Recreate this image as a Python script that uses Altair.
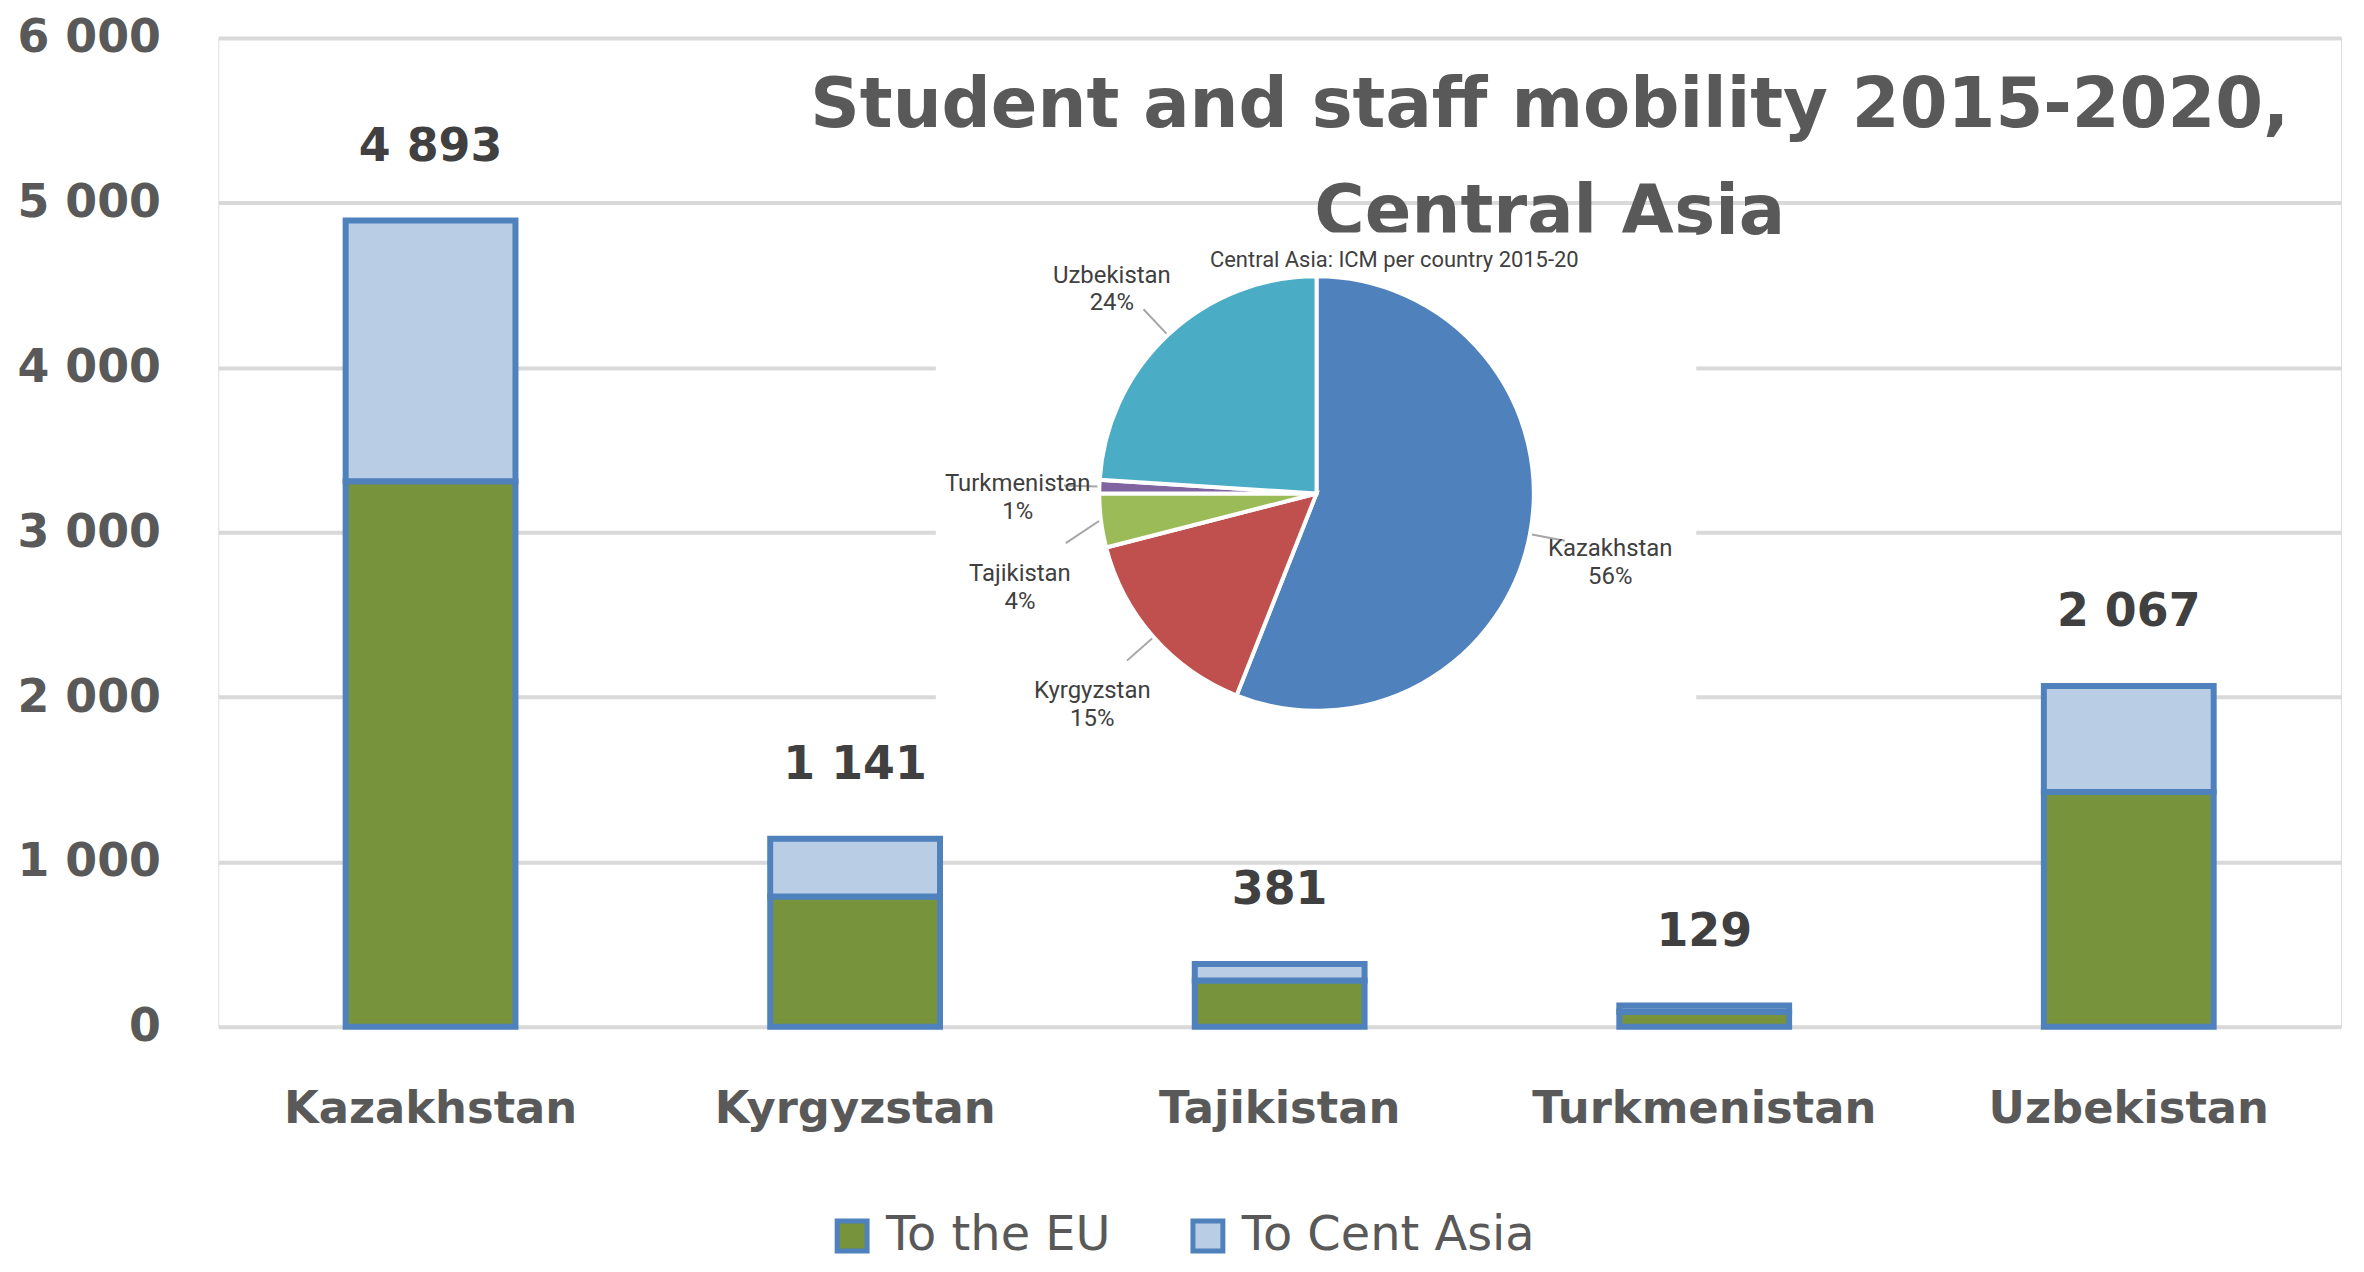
import altair as alt
import pandas as pd

# ---- data ----
COUNTRIES = ["Kazakhstan", "Kyrgyzstan", "Tajikistan", "Turkmenistan", "Uzbekistan"]
SERIES = ["To the EU", "To Cent Asia"]
TO_EU = [3310, 790, 280, 90, 1425]
TO_CA = [1583, 351, 101, 39, 642]
Y_TICKS = [0, 1000, 2000, 3000, 4000, 5000, 6000]

PIE_TITLE = "Central Asia: ICM per country 2015-20"
PIE_COUNTRIES = ["Kazakhstan", "Kyrgyzstan", "Tajikistan", "Turkmenistan", "Uzbekistan"]
PIE_PCT = [56, 15, 4, 1, 24]

TITLE_LINES = ["Student and staff mobility 2015-2020,", "Central Asia"]

# ---- styles / layout ----
BAR_COLORS = ["#77933C", "#B9CDE5"]
PIE_COLORS = ["#4F81BD", "#C0504D", "#9BBB59", "#8064A2", "#4BACC6"]
EDGE = "#4F81BD"
GRID = "#D9D9D9"
TXT = "#595959"
DARK = "#404040"

W, H = 2130, 992
CX, CY, R = 1102, 457, 218     # pie centre / radius (plot pixels)
RL = 300                       # label distance from centre
GAP = 90                       # min vertical spacing of labels on one side

rows = []
for c, eu, ca in zip(COUNTRIES, TO_EU, TO_CA):
    rows.append({"country": c, "series": SERIES[0], "value": eu, "ord": 0})
    rows.append({"country": c, "series": SERIES[1], "value": ca, "ord": 1})
bar_df = pd.DataFrame(rows)

pie_df = pd.DataFrame({"country": PIE_COUNTRIES, "pct": PIE_PCT,
                       "idx": list(range(len(PIE_COUNTRIES)))})
one = pd.DataFrame({"k": [0]})

xscale = alt.Scale(paddingInner=0.6, paddingOuter=0.3)
yscale = alt.Scale(domain=[0, 6000], nice=False)
xaxis = alt.Axis(title=None, domain=False, ticks=False, tickSize=0, labelPadding=60,
                 labelFont="DejaVu Sans", labelFontWeight="bold", labelFontSize=45,
                 labelColor=TXT, labelAngle=0, labelLimit=0)
yaxis = alt.Axis(title=None, domain=False, ticks=False, tickSize=0, values=Y_TICKS,
                 grid=True, gridColor=GRID, gridWidth=4, labelPadding=58,
                 labelFont="DejaVu Sans", labelFontWeight="bold", labelFontSize=46,
                 labelColor=TXT, labelLimit=0,
                 labelExpr="replace(format(datum.value, ','), ',', ' ')")

bars = alt.Chart(bar_df).mark_bar(stroke=EDGE, strokeWidth=6).encode(
    x=alt.X("country:N", sort=COUNTRIES, scale=xscale, axis=xaxis),
    y=alt.Y("value:Q", stack="zero", scale=yscale, axis=yaxis),
    color=alt.Color("series:N", sort=SERIES,
                    scale=alt.Scale(domain=SERIES, range=BAR_COLORS),
                    legend=alt.Legend(title=None, orient="none", direction="horizontal",
                                      legendX=612, legendY=1178,
                                      symbolType="square", symbolSize=900,
                                      symbolStrokeColor=EDGE, symbolStrokeWidth=5,
                                      symbolOpacity=1, labelLimit=0,
                                      labelFont="DejaVu Sans", labelFontSize=48,
                                      labelColor=TXT, labelOffset=10,
                                      columnPadding=72)),
    order=alt.Order("ord:Q", sort="ascending"),
)

totals = alt.Chart(bar_df).transform_aggregate(
    total="sum(value)", groupby=["country"]
).transform_calculate(
    label="replace(format(datum.total, ','), ',', ' ')"
).mark_text(font="DejaVu Sans", fontWeight="bold", fontSize=46, color=DARK,
            baseline="alphabetic", dy=-60).encode(
    x=alt.X("country:N", sort=COUNTRIES, scale=xscale, axis=xaxis),
    y=alt.Y("total:Q", scale=yscale, axis=yaxis),
    text="label:N",
)

title = alt.Chart(one).mark_text(font="DejaVu Sans", fontWeight="bold", fontSize=69,
                                 color=TXT, align="center", baseline="alphabetic",
                                 lineHeight=108).encode(
    x=alt.value(1336), y=alt.value(89), text=alt.value(TITLE_LINES))

box = alt.Chart(one).mark_rect(fill="white").encode(
    x=alt.value(720), x2=alt.value(1483), y=alt.value(195), y2=alt.value(704))

pie = alt.Chart(pie_df).mark_arc(radius=R, stroke="white", strokeWidth=4).encode(
    theta=alt.Theta("pct:Q", stack=True),
    color=alt.Color("country:N", sort=PIE_COUNTRIES,
                    scale=alt.Scale(domain=PIE_COUNTRIES, range=PIE_COLORS), legend=None),
    order=alt.Order("idx:Q"),
    x=alt.value(CX), y=alt.value(CY),
)

# label layout computed from the slice angles (push labels apart on each side)
pos = alt.Chart(pie_df).transform_window(
    cum="sum(pct)", sort=[alt.SortField("idx")]
).transform_calculate(
    a="(datum.cum - datum.pct / 2) / 100 * 2 * PI"
).transform_calculate(
    side="sin(datum.a) < 0 ? 'L' : 'R'",
    ex=f"{CX} + {R + 2} * sin(datum.a)",
    ey=f"{CY} - {R + 2} * cos(datum.a)",
    lx=f"{CX} + {RL} * sin(datum.a)",
    ly0=f"{CY} - {RL} * cos(datum.a)",
).transform_window(
    rk="row_number()", groupby=["side"], sort=[alt.SortField("ly0")]
).transform_calculate(
    z=f"datum.ly0 - datum.rk * {GAP}"
).transform_window(
    zmax="max(z)", groupby=["side"], sort=[alt.SortField("ly0")], frame=[None, 0]
).transform_calculate(
    ly=f"datum.zmax + datum.rk * {GAP}"
).transform_calculate(
    px="datum.ex + 0.42 * (datum.lx - datum.ex)",
    py="datum.ey + 0.42 * (datum.ly - datum.ey)",
    label="datum.country + '\\n' + datum.pct + '%'",
)

leaders = pos.mark_rule(color="#A6A6A6", strokeWidth=2).encode(
    x=alt.X("ex:Q", scale=None, axis=None), y=alt.Y("ey:Q", scale=None, axis=None),
    x2="px:Q", y2="py:Q",
)

pie_labels = pos.mark_text(font="Roboto", fontSize=24, color=DARK,
                           lineBreak="\n", lineHeight=28, align="center",
                           baseline="middle").encode(
    x=alt.X("lx:Q", scale=None, axis=None), y=alt.Y("ly:Q", scale=None, axis=None),
    text="label:N",
)

pie_title = alt.Chart(one).mark_text(font="Roboto", fontSize=22, color=DARK,
                                     align="center", baseline="middle").encode(
    x=alt.value(1180), y=alt.value(223), text=alt.value(PIE_TITLE))

chart = alt.layer(
    alt.layer(bars, totals), title, box, pie, leaders, pie_labels, pie_title
).resolve_scale(
    x="independent", y="independent", color="independent", theta="independent"
).properties(
    width=W, height=H,
    autosize=alt.AutoSizeParams(type="none"),
    padding={"left": 211, "top": 28, "right": 15, "bottom": 236},
).configure_view(stroke=None).configure(background="white")

chart.save("out.html", embed_options={"renderer": "svg", "actions": False})
